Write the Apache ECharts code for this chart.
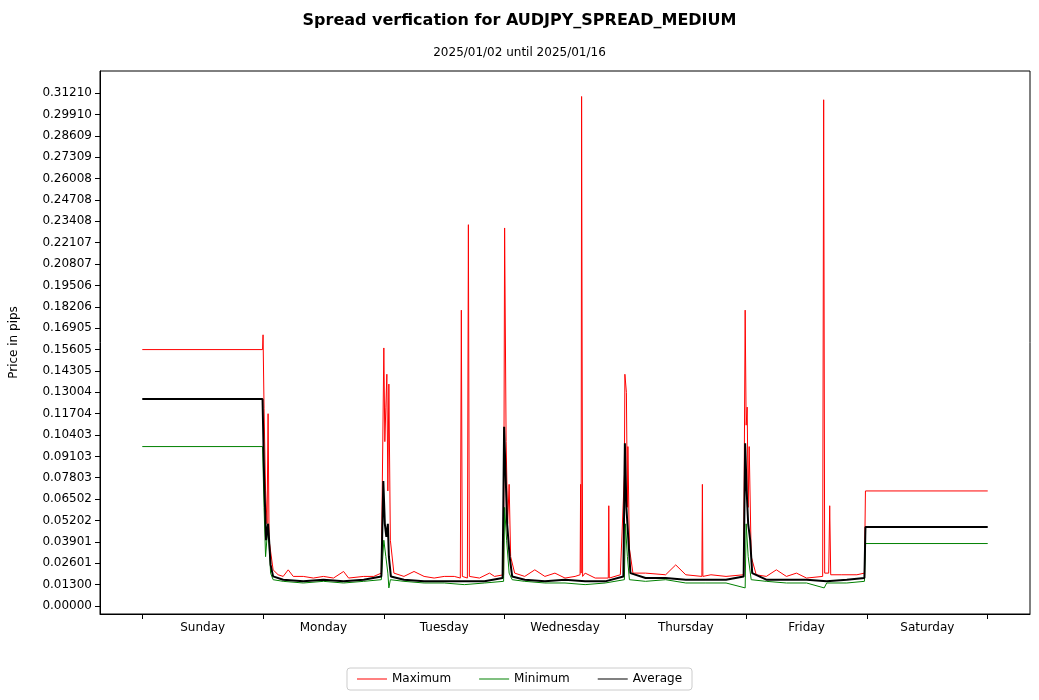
<!DOCTYPE html>
<html>
<head>
<meta charset="utf-8">
<script src="https://cdn.jsdelivr.net/npm/echarts@6/dist/echarts.min.js"></script>
</head>
<body style="margin:0">
<div id="chart" style="width:1039px;height:700px"></div>
<script>
// hours from start of week, spread value
var dayNames = ['Sunday','Monday','Tuesday','Wednesday','Thursday','Friday','Saturday'];
var yTicks = [0.00000,0.01300,0.02601,0.03901,0.05202,0.06502,0.07803,0.09103,0.10403,0.11704,0.13004,0.14305,0.15605,0.16905,0.18206,0.19506,0.20807,0.22107,0.23408,0.24708,0.26008,0.27309,0.28609,0.29910,0.31210];

var maxData = [[0,0.156],[23.9,0.156],[24,0.165],[24.2,0.12],[24.5,0.07],[24.8,0.05],[25,0.117],[25.2,0.04],[26,0.022],[27,0.019],[28,0.018],[29,0.022],[30,0.018],[32,0.018],[34,0.017],[36,0.018],[38,0.017],[40,0.021],[41,0.017],[44,0.018],[46,0.018],[47.5,0.02],[48,0.157],[48.2,0.1],[48.4,0.121],[48.6,0.141],[48.8,0.07],[49,0.135],[49.3,0.04],[50,0.02],[52,0.018],[54,0.021],[56,0.018],[58,0.017],[60,0.018],[62,0.018],[63.2,0.017],[63.4,0.18],[63.6,0.018],[64.6,0.017],[64.8,0.232],[65,0.018],[67,0.017],[69,0.02],[70,0.018],[71.8,0.019],[72,0.23],[72.3,0.1],[72.6,0.05],[72.9,0.074],[73.2,0.03],[74,0.02],[76,0.018],[78,0.022],[80,0.018],[82,0.02],[84,0.017],[86,0.018],[87,0.019],[87.1,0.074],[87.2,0.02],[87.3,0.31],[87.5,0.018],[88,0.02],[90,0.017],[92.6,0.017],[92.7,0.061],[92.8,0.017],[95,0.019],[95.8,0.08],[95.9,0.141],[96.2,0.13],[96.4,0.06],[96.5,0.097],[96.8,0.035],[97.5,0.02],[100,0.02],[104,0.019],[106,0.025],[108,0.019],[111.2,0.018],[111.3,0.074],[111.4,0.018],[113,0.019],[116,0.018],[119.5,0.019],[119.8,0.18],[120,0.11],[120.2,0.121],[120.4,0.06],[120.6,0.097],[121,0.03],[122,0.019],[124,0.018],[126,0.022],[128,0.018],[130,0.02],[132,0.017],[135.2,0.018],[135.4,0.308],[135.6,0.02],[136.4,0.02],[136.6,0.061],[136.8,0.019],[139,0.019],[142,0.019],[143.5,0.02],[143.7,0.07],[168,0.07]];

var minData = [[0,0.097],[23.9,0.097],[24.2,0.06],[24.5,0.03],[25,0.05],[25.5,0.02],[26,0.016],[28,0.015],[32,0.014],[36,0.015],[40,0.014],[44,0.015],[47.5,0.016],[48,0.04],[48.4,0.03],[48.8,0.02],[49,0.011],[49.3,0.016],[52,0.015],[56,0.014],[60,0.014],[64,0.013],[68,0.014],[71.8,0.015],[72,0.06],[72.4,0.04],[72.9,0.02],[73.5,0.016],[76,0.015],[80,0.014],[84,0.014],[88,0.013],[92,0.014],[95.8,0.016],[96,0.05],[96.4,0.03],[96.8,0.016],[100,0.015],[104,0.016],[108,0.014],[112,0.014],[116,0.014],[119.8,0.011],[120,0.05],[120.4,0.03],[121,0.016],[124,0.015],[128,0.014],[132,0.014],[135.5,0.011],[136,0.014],[140,0.014],[143.5,0.015],[143.7,0.038],[168,0.038]];

var avgData = [[0,0.126],[23.9,0.126],[24.2,0.08],[24.6,0.04],[25,0.05],[25.5,0.025],[26,0.018],[28,0.016],[32,0.015],[36,0.016],[40,0.015],[44,0.016],[47.5,0.018],[47.9,0.076],[48.2,0.05],[48.5,0.042],[48.8,0.05],[49,0.03],[49.4,0.018],[52,0.016],[56,0.015],[60,0.015],[64,0.015],[68,0.015],[71.6,0.017],[71.9,0.109],[72.2,0.08],[72.5,0.05],[73,0.03],[73.5,0.018],[76,0.016],[80,0.015],[84,0.016],[88,0.015],[92,0.015],[95.6,0.018],[95.9,0.099],[96.2,0.06],[96.6,0.04],[97,0.02],[100,0.017],[104,0.017],[108,0.016],[112,0.016],[116,0.016],[119.5,0.018],[119.8,0.099],[120.1,0.07],[120.4,0.05],[120.8,0.04],[121.2,0.02],[124,0.016],[128,0.016],[132,0.016],[136,0.015],[140,0.016],[143.5,0.017],[143.7,0.048],[168,0.048]];

var chart = echarts.init(document.getElementById('chart'));
var option = {
  animation: false,
  title: {
    text: 'Spread verfication for AUDJPY_SPREAD_MEDIUM',
    subtext: '2025/01/02 until 2025/01/16',
    left: 'center', top: 8, itemGap: 18,
    textStyle: {fontFamily: 'DejaVu Sans', fontSize: 16, fontWeight: 'bold', color: '#000'},
    subtextStyle: {fontFamily: 'DejaVu Sans', fontSize: 12, color: '#000'}
  },
  legend: {
    bottom: 10, left: 'center',
    borderColor: '#ccc', borderWidth: 1, borderRadius: 3, padding: [5, 10],
    itemWidth: 30, itemHeight: 10, itemGap: 28,
    icon: 'path://M0,4.5L30,4.5L30,5.5L0,5.5Z',
    textStyle: {fontFamily: 'DejaVu Sans', fontSize: 12, color: '#000'},
    data: ['Maximum','Minimum','Average']
  },
  grid: {left: 97, right: 9, top: 71, bottom: 86, show: true, borderColor: '#000', borderWidth: 1},
  xAxis: {
    type: 'value', min: -8.4, max: 176.4,
    splitLine: {show: false},
    axisLine: {onZero: false, lineStyle: {color: '#000'}},
    axisTick: {customValues: [0,24,48,72,96,120,144,168], lineStyle: {color: '#000'}},
    axisLabel: {customValues: [12,36,60,84,108,132,156], color: '#000', fontFamily: 'DejaVu Sans', fontSize: 12, margin: 8,
      formatter: function (v) { return dayNames[Math.floor(v / 24)]; }}
  },
  yAxis: {
    type: 'value', min: -0.00487, max: 0.3255,
    name: 'Price in pips', nameLocation: 'middle', nameGap: 80,
    nameTextStyle: {fontFamily: 'DejaVu Sans', fontSize: 12, color: '#000'},
    splitLine: {show: false},
    axisLine: {show: true, onZero: false, lineStyle: {color: '#000'}},
    axisTick: {show: true, customValues: yTicks, lineStyle: {color: '#000'}},
    axisLabel: {customValues: yTicks, color: '#000', fontFamily: 'DejaVu Sans', fontSize: 12,
      formatter: function (v) { return v.toFixed(5); }}
  },
  series: [
    {name: 'Maximum', type: 'line', data: maxData, symbol: 'none', lineStyle: {color: '#ff0000', width: 1}, itemStyle: {color: '#ff0000'}},
    {name: 'Minimum', type: 'line', data: minData, symbol: 'none', lineStyle: {color: '#008000', width: 1}, itemStyle: {color: '#008000'}},
    {name: 'Average', type: 'line', data: avgData, symbol: 'none', lineStyle: {color: '#000', width: 2}, itemStyle: {color: '#000'},
      legendIcon: 'path://M0,4L30,4L30,6L0,6Z'}
  ]
};
chart.setOption(option);
</script>
</body>
</html>
